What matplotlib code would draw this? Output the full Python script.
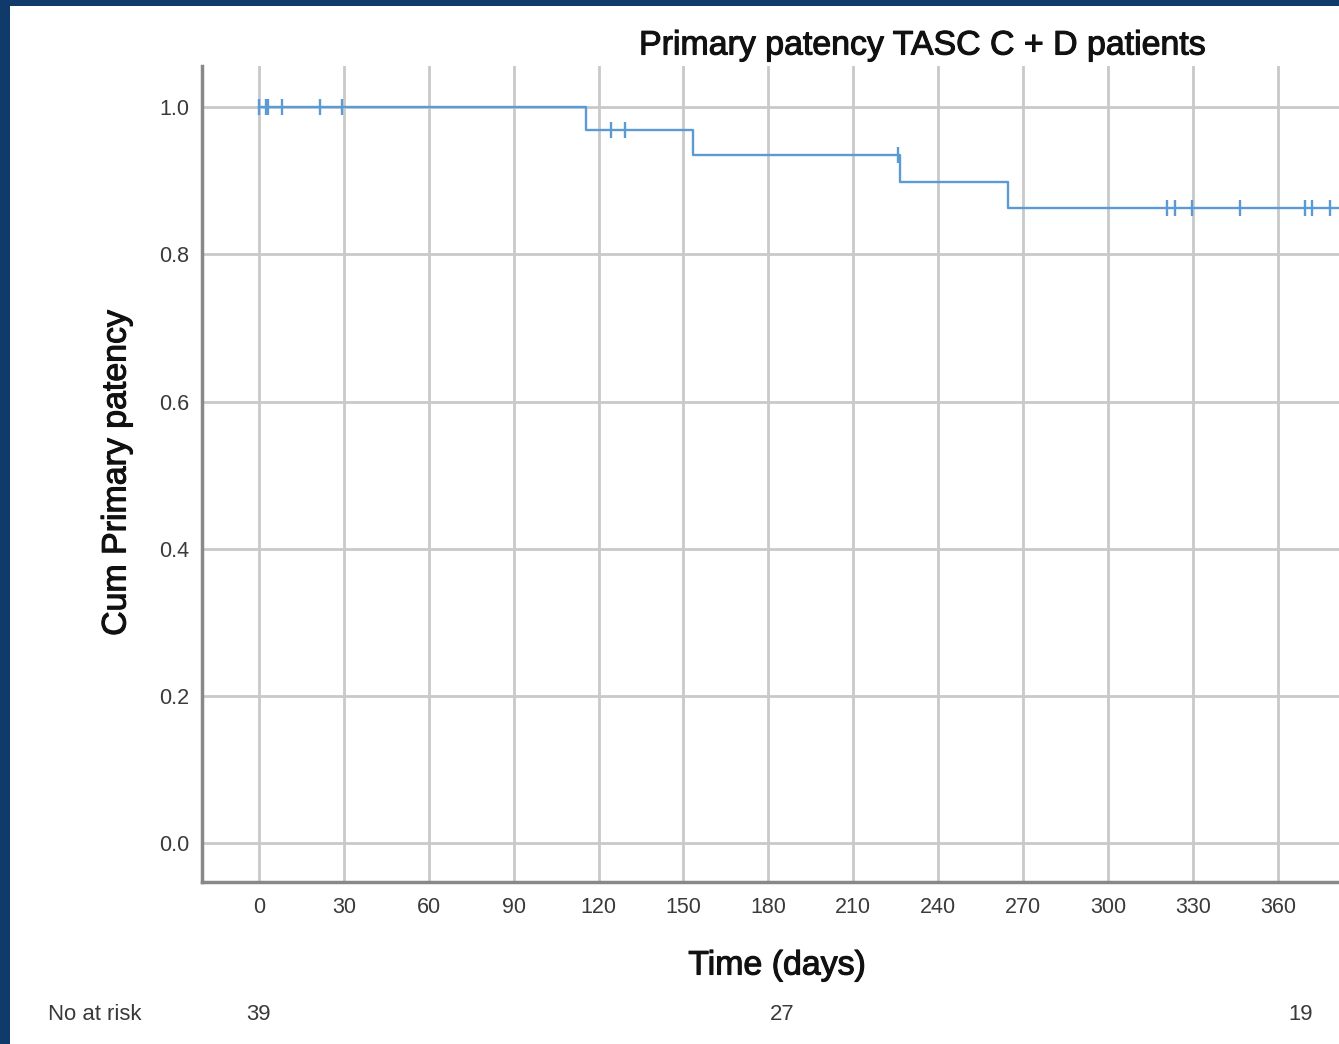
import numpy as np
import matplotlib
matplotlib.use("Agg")
import matplotlib.pyplot as plt
from matplotlib.patches import Rectangle
import matplotlib.transforms as mtransforms
import matplotlib.patheffects as pe

plt.rcParams['font.family'] = ['Liberation Sans', 'DejaVu Sans']

# Kaplan-Meier step curve
step_times = [0, 115.5, 153.5, 226.5, 264.5, 385]
step_surv = [1.0, 0.969, 0.935, 0.898, 0.863, 0.863]

# censored observations
cens_times = [0, 2.5, 3.2, 8, 21.5, 29.3, 124.3, 129.3, 225.8,
              321, 323.7, 329.7, 346.6, 369.6, 372, 378.4]
cens_surv = [1.0, 1.0, 1.0, 1.0, 1.0, 1.0, 0.969, 0.969, 0.935,
             0.863, 0.863, 0.863, 0.863, 0.863, 0.863, 0.863]

# number at risk
risk_times = [0, 185, 368]
risk_counts = [39, 27, 19]

x_ticks = np.arange(0, 361, 30)
y_ticks = [0.0, 0.2, 0.4, 0.6, 0.8, 1.0]

line_col = '#5b9bd5'
grid_col = '#c9c9c9'
spine_col = '#888888'
txt_col = '#111111'
tick_col = '#3a3a3a'

fig = plt.figure(figsize=(13.39, 10.44), dpi=100)
fig.patch.set_facecolor('#0f3a6a')
# white slide area
fig.patches.append(Rectangle((10/1339, 0), 1.0, 1 - 6/1044, transform=fig.transFigure,
                             facecolor='white', edgecolor='none', zorder=-1))

ax = fig.add_axes([202/1339, 1 - 882/1044, 1 - 202/1339, (882 - 66)/1044])
ax.set_zorder(1)
ax.set_facecolor('none')
ax.set_xlim(-20.1, 381.6)
ax.set_ylim(-0.053, 1.056)

ax.step(step_times, step_surv, where='post', color=line_col, lw=1.7, zorder=3)
ax.plot(cens_times, cens_surv, ls='none', marker='|', ms=12, mew=1.7,
        color=line_col, zorder=3)

ax.set_xticks(x_ticks)
ax.set_yticks(y_ticks)
ax.set_yticklabels(['%.1f' % v for v in y_ticks])
ax.grid(True, color=grid_col, lw=2)
ax.set_axisbelow(True)
ax.tick_params(length=0, labelsize=15.5, labelcolor=tick_col)
ax.tick_params(axis='x', pad=11)
ax.tick_params(axis='y', pad=9)

for s in ['top', 'right']:
    ax.spines[s].set_visible(False)
for s in ['left', 'bottom']:
    ax.spines[s].set_color(spine_col)
    ax.spines[s].set_linewidth(2.5)

thick = [pe.withStroke(linewidth=0.8, foreground=txt_col)]
fig.text(922/1339, 1 - 46/1044, 'Primary patency TASC C + D patients',
         ha='center', va='center', fontsize=24.4, color=txt_col, path_effects=thick)
fig.text(117/1339, 1 - 473/1044, 'Cum Primary patency', rotation=90,
         ha='center', va='center', fontsize=24.4, color=txt_col, path_effects=thick)
fig.text(777/1339, 1 - 966/1044, 'Time (days)',
         ha='center', va='center', fontsize=24.4, color=txt_col, path_effects=thick)

# number at risk row
trans = mtransforms.blended_transform_factory(ax.transData, fig.transFigure)
fig.text(48/1339, 1 - 1014/1044, 'No at risk', ha='left', va='center',
         fontsize=15.9, color=tick_col)
for t, n in zip(risk_times, risk_counts):
    ax.text(t, 1 - 1014/1044, str(n), transform=trans, ha='center', va='center',
            fontsize=15.9, color=tick_col, clip_on=False)

fig.savefig('out.png', dpi=100, facecolor=fig.get_facecolor())
